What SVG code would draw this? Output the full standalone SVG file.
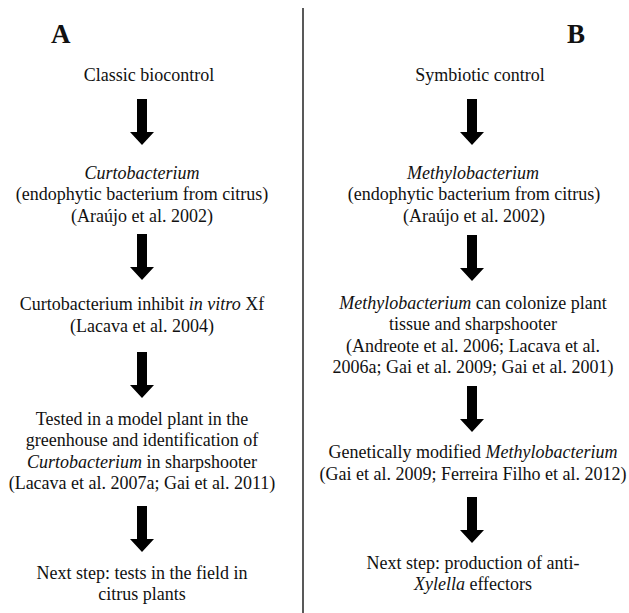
<svg xmlns="http://www.w3.org/2000/svg" width="629" height="613" viewBox="0 0 629 613">
<defs>
<style>
text{font-family:'Liberation Serif','Tinos','Times New Roman','Nimbus Roman','DejaVu Serif',serif;font-size:18px;fill:#111;text-anchor:middle}
.lbl{font-size:27px;font-weight:bold;text-anchor:start}
.i{font-style:italic}
</style>
<path id="arr" d="M -5 0 H 5 V 33 H 12 L 0 46 L -12 33 H -5 Z" fill="#000"/>
</defs>
<rect width="629" height="613" fill="#fff"/>
<line x1="303" y1="8" x2="303" y2="613" stroke="#222" stroke-width="1.5"/>
<g font-family="Liberation Serif, Tinos, Times New Roman, DejaVu Serif, serif">
<g id="labelA"><text class="lbl" x="51" y="43">A</text></g>
<g id="labelB"><text class="lbl" x="567" y="43">B</text></g>
<g id="connectors">
<use href="#arr" x="142" y="99"/>
<use href="#arr" x="142" y="234"/>
<use href="#arr" x="142" y="352"/>
<use href="#arr" x="142" y="506"/>
<use href="#arr" x="472" y="99"/>
<use href="#arr" x="472" y="235"/>
<use href="#arr" x="472" y="386"/>
<use href="#arr" x="472" y="497"/>
</g>
<g id="a1"><text x="149" y="81">Classic biocontrol</text></g>
<g id="a2">
<text x="142" y="179" class="i">Curtobacterium</text>
<text x="142" y="200">(endophytic bacterium from citrus)</text>
<text x="142" y="222">(Araújo et al. 2002)</text>
</g>
<g id="a3">
<text x="142" y="310">Curtobacterium inhibit <tspan class="i">in vitro</tspan> Xf</text>
<text x="142" y="332">(Lacava et al. 2004)</text>
</g>
<g id="a4">
<text x="142" y="425">Tested in a model plant in the</text>
<text x="142" y="446">greenhouse and identification  of</text>
<text x="142" y="468"><tspan class="i">Curtobacterium</tspan> in sharpshooter</text>
<text x="142" y="489">(Lacava et al. 2007a; Gai et al. 2011)</text>
</g>
<g id="a5">
<text x="142" y="579">Next step: tests in the field in</text>
<text x="142" y="600">citrus plants</text>
</g>
<g id="b1"><text x="480" y="81">Symbiotic control</text></g>
<g id="b2">
<text x="473" y="179" class="i">Methylobacterium</text>
<text x="474" y="200">(endophytic bacterium from citrus)</text>
<text x="474" y="222">(Araújo et al. 2002)</text>
</g>
<g id="b3">
<text x="473" y="309"><tspan class="i">Methylobacterium</tspan> can colonize plant</text>
<text x="473" y="330">tissue and sharpshooter</text>
<text x="473" y="352">(Andreote et al. 2006; Lacava et al.</text>
<text x="473" y="373">2006a; Gai et al. 2009; Gai et al. 2001)</text>
</g>
<g id="b4">
<text x="473" y="458">Genetically modified <tspan class="i">Methylobacterium</tspan></text>
<text x="473" y="480">(Gai et al. 2009; Ferreira Filho et al. 2012)</text>
</g>
<g id="b5">
<text x="473" y="569">Next step: production of anti-</text>
<text x="473" y="590"><tspan class="i">Xylella</tspan> effectors</text>
</g>
</g>
</svg>
